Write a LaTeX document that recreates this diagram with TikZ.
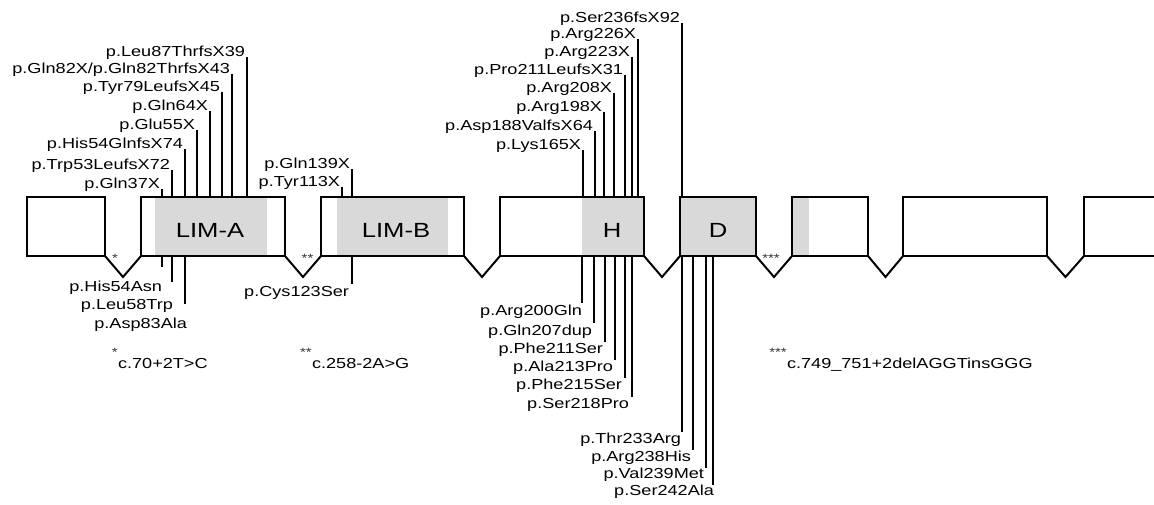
\documentclass[tikz,border=0pt]{standalone}
\usepackage{fontspec}
\setmainfont[FakeStretch=1.25]{Liberation Sans}
\usetikzlibrary{calc}
\definecolor{limgrey}{RGB}{217,217,217}
\tikzset{
  exon/.style={draw=black, line width=2.8pt, inner sep=0pt, outer sep=0pt, anchor=north west, minimum height=59pt},
  intron/.style={draw=black, line width=2pt, line join=miter},
  mut/.style={draw=black, line width=1.8pt},
  lbl/.style={inner sep=0pt, outer sep=0pt, font=\fontsize{14.5}{16}\selectfont},
  dom/.style={inner sep=0pt, anchor=base, font=\fontsize{20.5}{22}\selectfont},
  ast/.style={inner sep=0pt, anchor=base, text=black!80, font=\fontsize{12}{12}\selectfont},
  domfill/.style={fill=limgrey},
}
\newcommand\mutup[5]{%
  \node[lbl, anchor=base east] (#1) at (#2-2,#3) {#5};
  \coordinate (#1t) at (#2,#3);
  \draw[mut] (#1t) -- (#1t |- #4.north);}
\newcommand\mutdn[7]{%
  \node[lbl, anchor=base east] (#1) at (#5,#6) {#7};
  \coordinate (#1t) at (#2,#3);
  \draw[mut] (#4.south -| #1t) -- (#1t);}
\begin{document}
\begin{tikzpicture}[x=1pt, y=-1pt]
\useasboundingbox (0,0) rectangle (1154,505);
\clip (0,0) rectangle (1154,505);
% domain shading
\fill[domfill] (155,197) rectangle (267,256);
\fill[domfill] (337,197) rectangle (448,256);
\fill[domfill] (582,197) rectangle (644,256);
\fill[domfill] (680,197) rectangle (756,256);
\fill[domfill] (792,197) rectangle (809,256);
% exons
\node[exon, minimum width=78pt]  (e1) at (27,197) {};
\node[exon, minimum width=144pt] (e2) at (141,197) {};
\node[exon, minimum width=143pt] (e3) at (321,197) {};
\node[exon, minimum width=144pt] (e4) at (500,197) {};
\node[exon, minimum width=76pt]  (e5) at (680,197) {};
\node[exon, minimum width=76pt]  (e6) at (792,197) {};
\node[exon, minimum width=144pt] (e7) at (903,197) {};
\node[exon, minimum width=120pt] (e8) at (1084,197) {};
% introns
\foreach \a/\b in {e1/e2,e2/e3,e3/e4,e4/e5,e5/e6,e6/e7,e7/e8}{
  \draw[intron] (\a.south east) -- ($(\a.south east)!0.5!(\b.south west)+(0,21)$) -- (\b.south west);
}
% domain labels
\node[dom] (la) at (210,237) {LIM-A};
\node[dom] (lb) at (396,237) {LIM-B};
\node[dom] (lh) at (612,237) {H};
\node[dom] (ld) at (718,237) {D};
% splice asterisks
\node[ast] (s1) at (115,262) {*};
\node[ast] (s2) at (307.5,262) {**};
\node[ast] (s3) at (771,262) {***};
% top mutations
\mutup{a1}{162}{189}{e2}{p.Gln37X}
\mutup{a2}{172}{170}{e2}{p.Trp53LeufsX72}
\mutup{a3}{185}{149}{e2}{p.His54GlnfsX74}
\mutup{a4}{197}{130}{e2}{p.Glu55X}
\mutup{a5}{210}{111}{e2}{p.Gln64X}
\mutup{a6}{222}{92}{e2}{p.Tyr79LeufsX45}
\mutup{a7}{232}{74}{e2}{p.Gln82X/p.Gln82ThrfsX43}
\mutup{a8}{247}{57}{e2}{p.Leu87ThrfsX39}
\mutup{b1}{342}{187}{e3}{p.Tyr113X}
\mutup{b2}{352}{169}{e3}{p.Gln139X}
\mutup{h1}{583}{150}{e4}{p.Lys165X}
\mutup{h2}{595}{131}{e4}{p.Asp188ValfsX64}
\mutup{h3}{604}{112}{e4}{p.Arg198X}
\mutup{h4}{614}{93}{e4}{p.Arg208X}
\mutup{h5}{625}{75}{e4}{p.Pro211LeufsX31}
\mutup{h6}{632}{57}{e4}{p.Arg223X}
\mutup{h7}{638}{39}{e4}{p.Arg226X}
\mutup{d1}{682}{23}{e5}{p.Ser236fsX92}
% bottom mutations
\mutdn{c1}{162}{267}{e2}{162}{291}{p.His54Asn}
\mutdn{c2}{172}{282}{e2}{173}{309}{p.Leu58Trp}
\mutdn{c3}{185}{304}{e2}{187}{328}{p.Asp83Ala}
\mutdn{c4}{352}{284}{e3}{349}{296}{p.Cys123Ser}
\mutdn{g1}{582}{303}{e4}{582}{315}{p.Arg200Gln}
\mutdn{g2}{594}{323}{e4}{592}{335}{p.Gln207dup}
\mutdn{g3}{605}{342}{e4}{603}{353}{p.Phe211Ser}
\mutdn{g4}{615}{360}{e4}{613}{371}{p.Ala213Pro}
\mutdn{g5}{625}{378}{e4}{622}{389}{p.Phe215Ser}
\mutdn{g6}{632}{397}{e4}{629}{408}{p.Ser218Pro}
\mutdn{f1}{682}{432}{e5}{681}{443}{p.Thr233Arg}
\mutdn{f2}{693}{450}{e5}{691}{461}{p.Arg238His}
\mutdn{f3}{706}{468}{e5}{704}{478}{p.Val239Met}
\mutdn{f4}{713}{485}{e5}{714}{495}{p.Ser242Ala}
% legend
\node[lbl, anchor=base west] (n1) at (118,368) {c.70+2T>C};
\node[ast, anchor=base east] (n1s) at (n1.base west) [yshift=11.5pt] {*};
\node[lbl, anchor=base west] (n2) at (312,368) {c.258-2A>G};
\node[ast, anchor=base east] (n2s) at (n2.base west) [yshift=11.5pt] {**};
\node[lbl, anchor=base west] (n3) at (787,368) {c.749\_751+2delAGGTinsGGG};
\node[ast, anchor=base east] (n3s) at (n3.base west) [yshift=11.5pt] {***};
\end{tikzpicture}
\end{document}
